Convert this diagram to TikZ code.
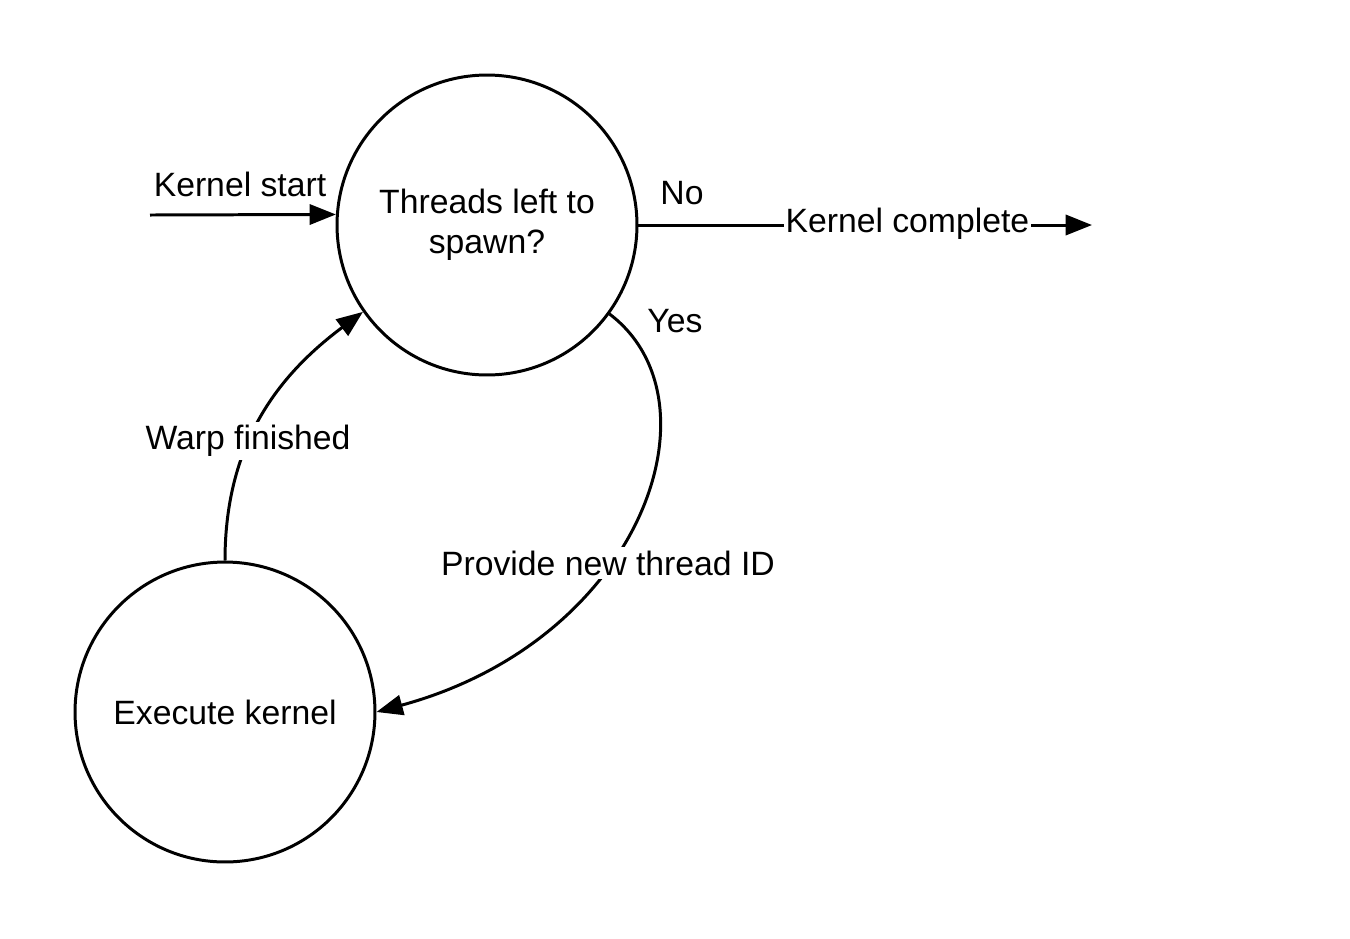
\documentclass[tikz,border=0pt]{standalone}
\usepackage{fontspec}
\setmainfont{Liberation Sans}
\usetikzlibrary{arrows.meta}

\begin{document}
\begin{tikzpicture}[x=0.02cm,y=-0.02cm,
    every node/.style={font=\fontsize{19.2}{23}\selectfont},
    state/.style={draw,circle,line width=1.7pt,minimum size=6cm,inner sep=0pt,align=center},
    edge/.style={line width=1.7pt,-{Triangle[length=15pt,width=11.5pt]}},
    lbl/.style={fill=white,inner xsep=1pt,inner ysep=2pt}]
    \useasboundingbox (0,0) rectangle (1350,938);
    \node[state] (tl) at (487,225) {Threads left to\\spawn?};
    \node[state] (ek) at (225,712) {Execute kernel};
    \coordinate (start) at (150,215);
    \coordinate (done) at (1092,225);
    \draw[edge] (start) -- (tl.176);
    \node (ks) at (240,184) {Kernel start};
    \draw[edge] (tl.east) -- (done) node[lbl,pos=0.593,yshift=0.03cm] (kc) {Kernel complete};
    \node (no) at (682,193) {No};
    % yes branch
    \draw[edge] (tl.324) .. controls +(115,87) and +(265,-72) .. (ek.east);
    \node[lbl] (pn) at (608,563) {Provide new thread ID};
    \node (yes) at (675,321) {Yes};
    % back to the test
    \draw[edge] (ek.north) .. controls +(0,-122) and +(-80,60) .. (tl.215);
    \node[lbl] (wf) at (248,441) {Warp finished};
\end{tikzpicture}
\end{document}
